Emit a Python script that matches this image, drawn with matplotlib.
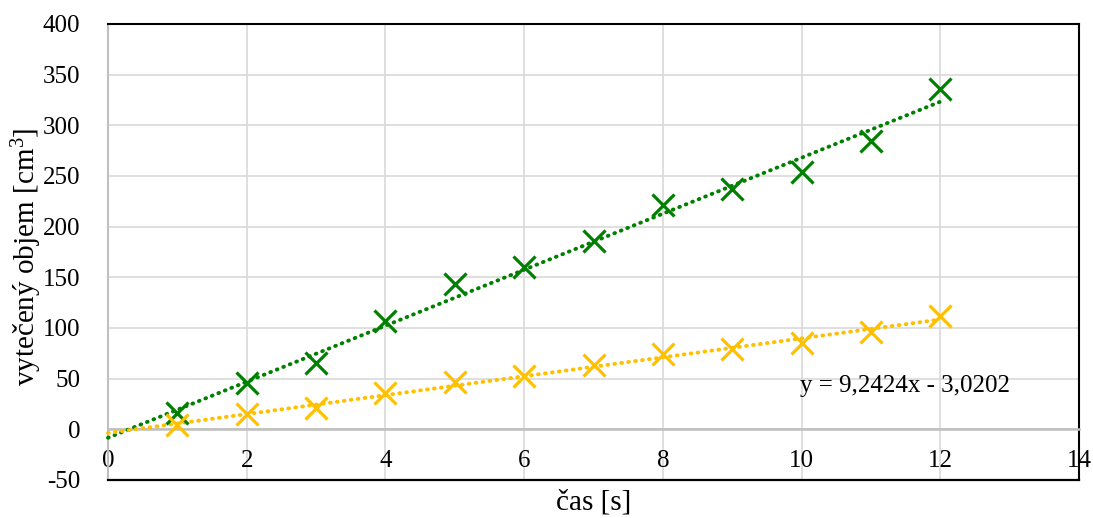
import numpy as np
import matplotlib
matplotlib.use("Agg")
import matplotlib.pyplot as plt

# data
cas = [1, 2, 3, 4, 5, 6, 7, 8, 9, 10, 11, 12]
objem_zelena = [16, 46, 65, 107, 143, 160, 186, 221, 237, 254, 285, 336]
objem_zluta = [4, 15, 21, 36, 47, 53, 63, 74, 79, 85, 96, 112]
x_ticks = [0, 2, 4, 6, 8, 10, 12, 14]
y_ticks = [-50, 0, 50, 100, 150, 200, 250, 300, 350, 400]
rovnice = "y = 9,2424x - 3,0202"

GREEN = "#008000"
YELLOW = "#FFC000"

plt.rcParams['font.family'] = ['Liberation Serif', 'DejaVu Serif']
plt.rcParams['mathtext.fontset'] = 'custom'
plt.rcParams['mathtext.rm'] = 'Liberation Serif'

fig = plt.figure(figsize=(10.93, 5.18), dpi=100)
ax = fig.add_axes([108/1093, 38/518, 971/1093, 456/518])

ax.set_xlim(0, 14)
ax.set_ylim(-50, 400)
ax.set_xticks(x_ticks)
ax.set_yticks(y_ticks)
ax.set_yticklabels([str(v) for v in y_ticks])
ax.set_xticklabels([str(v) for v in x_ticks])

ax.grid(True, color="#D9D9D9", linewidth=1.2, zorder=0)
ax.set_axisbelow(True)

# spines
for s in ['top', 'right']:
    ax.spines[s].set_color('black')
    ax.spines[s].set_linewidth(1.5)
ax.spines['left'].set_color('#BFBFBF')
ax.spines['left'].set_linewidth(1.5)
ax.spines['bottom'].set_position(('data', 0))
ax.spines['bottom'].set_color('#BFBFBF')
ax.spines['bottom'].set_linewidth(1.8)
ax.axhline(-50, color='black', linewidth=1.6, clip_on=False, zorder=5)

ax.tick_params(axis='both', length=0, labelsize=18)
ax.tick_params(axis='x', pad=15)
ax.tick_params(axis='y', pad=20)

def trend(x, y):
    k, q = np.polyfit(x, y, 1)
    xs = np.array([0, max(x)])
    return xs, k * xs + q

for y, c in [(objem_zelena, GREEN), (objem_zluta, YELLOW)]:
    xs, ys = trend(cas, y)
    ax.plot(xs, ys, color=c, linewidth=2.8, linestyle=(0, (0.2, 1.6)),
            dash_capstyle='round', zorder=3, clip_on=False)
    ax.plot(cas, y, linestyle='none', marker='x', markersize=16,
            markeredgewidth=2.3, color=c, zorder=4, clip_on=False)

ax.text(9.98, 43, rovnice, fontsize=18, va='center', ha='left')

ax.set_ylabel("vytečený objem [cm$\\mathregular{^3}$]", fontsize=21)
ax.yaxis.set_label_coords(-0.066, 0.489)
ax.set_xlabel("čas [s]", fontsize=21)
ax.xaxis.set_label_coords(0.5, -0.021)
ax.xaxis.label.set_va('top')

fig.savefig("out.png", dpi=100)
